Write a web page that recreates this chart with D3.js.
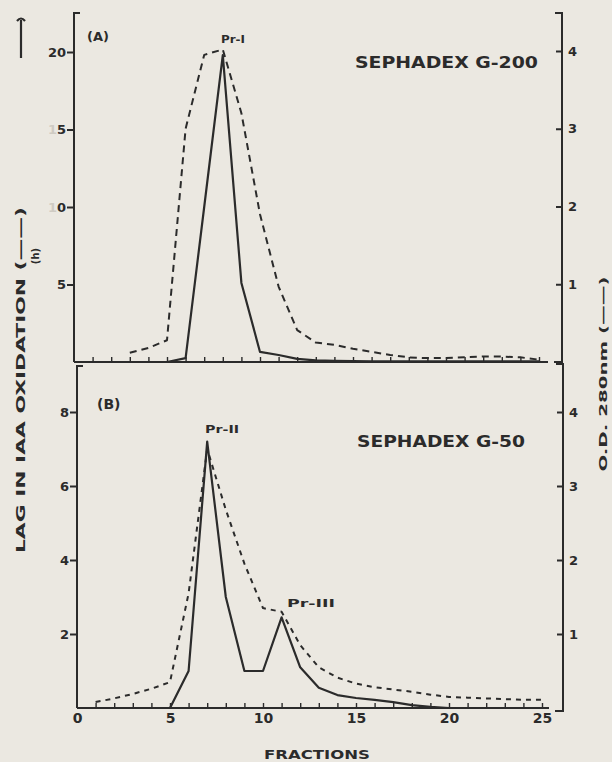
<!DOCTYPE html>
<html>
<head>
<meta charset="utf-8">
<script src="https://cdn.jsdelivr.net/npm/d3@7"></script>
<style>
  body { margin: 0; background: #ebe8e1; }
  svg text { font-family: "DejaVu Sans", sans-serif; font-weight: bold; fill: #2b2b2b; }
</style>
</head>
<body>
<div id="chart"></div>
<script>
// (A) Sephadex G-200 : lag in IAA oxidation (h), solid
const fracLagA = [5, 6, 7, 8, 9, 10, 11, 12, 13, 14, 15, 16, 17, 18, 19, 20, 21, 22, 23, 24, 25];
const lagA     = [0, 0.25, 10, 19.8, 5.1, 0.65, 0.45, 0.2, 0.1, 0.08, 0.06, 0.05, 0.05, 0.05, 0.05, 0.05, 0.05, 0.05, 0.05, 0.05, 0.05];
// (A) O.D. 280 nm, dashed
const fracOdA = [3, 4, 5, 6, 7, 8, 9, 10, 11, 12, 13, 14, 15, 16, 17, 18, 19, 20, 21, 22, 23, 24, 25];
const odA     = [0.12, 0.18, 0.28, 3.0, 3.95, 4.02, 3.2, 1.9, 0.97, 0.41, 0.25, 0.22, 0.17, 0.13, 0.09, 0.06, 0.05, 0.05, 0.06, 0.07, 0.07, 0.06, 0.03];

// (B) Sephadex G-50 : lag in IAA oxidation (h), solid
const fracLagB = [5, 6, 7, 8, 9, 10, 11, 12, 13, 14, 15, 16, 17, 18, 19, 20, 21, 22, 23, 24, 25];
const lagB     = [0, 1.0, 7.2, 3.0, 1.0, 1.0, 2.45, 1.1, 0.55, 0.35, 0.27, 0.22, 0.16, 0.08, 0.03, 0, 0, 0, 0, 0, 0];
// (B) O.D. 280 nm, dashed
const fracOdB = [1, 2, 3, 4, 5, 6, 7, 8, 9, 10, 11, 12, 13, 14, 15, 16, 17, 18, 19, 20, 21, 22, 23, 24, 25];
const odB     = [0.08, 0.13, 0.19, 0.26, 0.35, 1.55, 3.5, 2.68, 1.95, 1.35, 1.3, 0.85, 0.55, 0.41, 0.33, 0.28, 0.25, 0.22, 0.18, 0.15, 0.14, 0.13, 0.12, 0.11, 0.11];

// tick labels
const lagTicksA = [5, 10, 15, 20];
const lagTicksB = [2, 4, 6, 8];
const odTicks = [1, 2, 3, 4];
const fracTicks = [0, 5, 10, 15, 20, 25];

const ink = "#2b2b2b";
const width = 612, height = 762;

const svg = d3.select("#chart")
  .append("svg")
    .attr("width", width)
    .attr("height", height);

svg.append("rect")
  .attr("width", width).attr("height", height)
  .attr("fill", "#ebe8e1");

// scales
const xA = d3.scaleLinear().domain([0, 25]).range([74, 539]);
const xB = d3.scaleLinear().domain([0, 25]).range([77, 542]);
const yA = d3.scaleLinear().domain([0, 20]).range([362, 52]);
const yOdA = d3.scaleLinear().domain([0, 4]).range([362, 51]);
const yB = d3.scaleLinear().domain([0, 8]).range([708, 412]);
const yOdB = d3.scaleLinear().domain([0, 4]).range([708, 412]);

function drawFrame(x, y, top, rightX, hookTopRight) {
  const left = x.range()[0], base = y.range()[0];
  const g = svg.append("g").attr("fill", "none").attr("stroke", ink).attr("stroke-width", 2);
  // left axis with hook at top
  g.append("path").attr("d", `M${left + 6},${top} H${left} V${base}`);
  // right axis with hooks
  g.append("path").attr("d", `M${rightX - 7},${hookTopRight} H${rightX} V${base + (base > 400 ? 3 : 0)} H${rightX - 8}`);
  // baseline
  g.append("path").attr("d", `M${left},${base} H${rightX - 14}`);
}

drawFrame(xA, yA, 13, 562, 13);
drawFrame(xB, yB, 366, 563, 364);

function styleAxis(g, size) {
  g.select(".domain").remove();
  g.selectAll("line").attr("stroke", ink).attr("stroke-width", 2);
  g.selectAll("text").attr("font-size", size).attr("fill", ink);
}

// minor fraction ticks pointing up from the baselines
const minor = d3.range(1, 26);
svg.append("g")
    .attr("transform", `translate(0,${yA.range()[0]})`)
    .call(d3.axisTop(xA).tickValues(minor).tickSize(5).tickFormat(""))
    .call(g => { styleAxis(g, 0); g.selectAll("line").attr("stroke-width", 1.4); });
svg.append("g")
    .attr("transform", `translate(0,${yB.range()[0]})`)
    .call(d3.axisTop(xB).tickValues(minor).tickSize(5).tickFormat(""))
    .call(g => { styleAxis(g, 0); g.selectAll("line").attr("stroke-width", 1.4); });

// fraction labels
svg.append("g")
    .attr("transform", `translate(0,${yB.range()[0]})`)
    .call(d3.axisBottom(xB).tickValues(fracTicks).tickSize(0).tickPadding(5))
    .call(g => styleAxis(g, 14));

// left axes (lag, h)
svg.append("g")
    .attr("transform", `translate(${xA.range()[0]},0)`)
    .call(d3.axisLeft(yA).tickValues(lagTicksA).tickSize(7).tickPadding(1).tickFormat(d3.format("d")))
    .call(g => styleAxis(g, 13))
    .call(g => g.selectAll("text").each(function(d) {
      // the leading "1" of 10 and 15 is almost lost in the print
      if (d >= 10 && d < 20) {
        const t = d3.select(this).text(null);
        t.append("tspan").attr("fill", "#cfcbc3").text("1");
        t.append("tspan").text(String(d).slice(1));
      }
    }));
svg.append("g")
    .attr("transform", `translate(${xB.range()[0]},0)`)
    .call(d3.axisLeft(yB).tickValues(lagTicksB).tickSize(7).tickPadding(1).tickFormat(d3.format("d")))
    .call(g => styleAxis(g, 13));

// right axes (O.D.), ticks pointing inward
svg.append("g")
    .attr("transform", "translate(562,0)")
    .call(d3.axisRight(yOdA).tickValues(odTicks).tickSize(-6).tickPadding(6).tickFormat(d3.format("d")))
    .call(g => styleAxis(g, 13));
svg.append("g")
    .attr("transform", "translate(563,0)")
    .call(d3.axisRight(yOdB).tickValues(odTicks).tickSize(-6).tickPadding(6).tickFormat(d3.format("d")))
    .call(g => styleAxis(g, 13));

// profiles
function plot(xs, ys, x, y, dash) {
  svg.append("path")
    .datum(d3.zip(xs, ys))
    .attr("fill", "none")
    .attr("stroke", ink)
    .attr("stroke-width", dash ? 2 : 2.2)
    .attr("stroke-dasharray", dash || null)
    .attr("stroke-linejoin", "round")
    .attr("d", d3.line()
      .x(d => x(d[0]))
      .y(d => y(d[1]))
    );
}

plot(fracOdA, odA, xA, yOdA, "7,5");
plot(fracLagA, lagA, xA, yA, null);
plot(fracOdB, odB, xB, yOdB, "5,5");
plot(fracLagB, lagB, xB, yB, null);

// annotations
function label(txt, x, y, size, len) {
  const t = svg.append("text").attr("x", x).attr("y", y).attr("font-size", size).text(txt);
  if (len) t.attr("textLength", len).attr("lengthAdjust", "spacingAndGlyphs");
  return t;
}
label("(A)", 87, 41, 13);
label("Pr-I", 221, 43, 10, 24);
label("SEPHADEX G-200", 355, 68, 15, 183);
label("(B)", 97, 409, 14);
label("Pr-II", 205, 433, 10, 34);
label("Pr-III", 287, 607, 10, 48);
label("SEPHADEX G-50", 357, 447, 15, 168);
label("FRACTIONS", 264, 759, 12, 106);

// axis titles
svg.append("text")
  .attr("transform", "translate(25,380) rotate(-90)")
  .attr("text-anchor", "middle")
  .attr("font-size", 12)
  .attr("textLength", 346).attr("lengthAdjust", "spacingAndGlyphs")
  .text("LAG IN IAA OXIDATION (——)");
svg.append("text")
  .attr("transform", "translate(39,256) rotate(-90)")
  .attr("text-anchor", "middle")
  .attr("font-size", 10)
  .text("(h)");
svg.append("path")
  .attr("d", "M21,58 V20 M17,21 Q21,16 25,21")
  .attr("fill", "none").attr("stroke", ink).attr("stroke-width", 2.2);

svg.append("text")
  .attr("transform", "translate(607,374) rotate(-90)")
  .attr("text-anchor", "middle")
  .attr("font-size", 11)
  .attr("textLength", 195).attr("lengthAdjust", "spacingAndGlyphs")
  .text("O.D. 280nm (——)");
</script>
</body>
</html>
